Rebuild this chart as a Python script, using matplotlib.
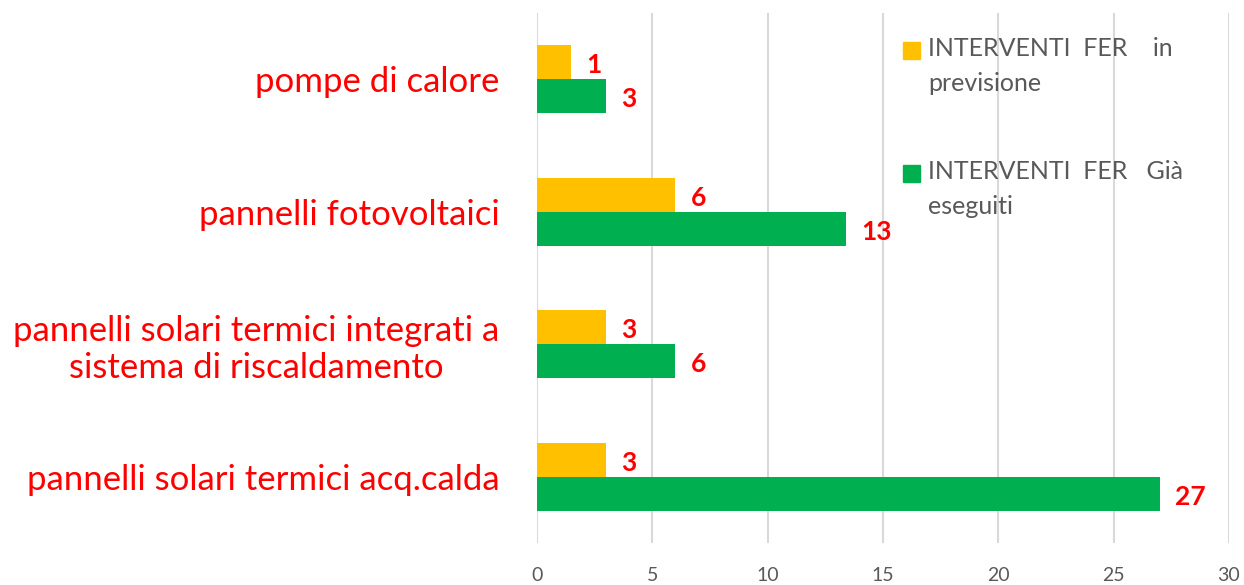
import matplotlib.pyplot as plt
from matplotlib.patches import Rectangle
import numpy as np

categories = [
    "pompe di calore",
    "pannelli fotovoltaici",
    "pannelli solari termici integrati a\nsistema di riscaldamento",
    "pannelli solari termici acq.calda",
]
previsione = [1.48, 6, 3, 3]
eseguiti = [3, 13.4, 6, 27]
previsione_labels = ["1", "6", "3", "3"]
eseguiti_labels = ["3", "13", "6", "27"]
legend_labels = ["INTERVENTI  FER    in\nprevisione", "INTERVENTI  FER   Già\neseguiti"]
legend_colors = ["#FFC000", "#00B050"]
xticks = [0, 5, 10, 15, 20, 25, 30]

plt.rcParams['font.family'] = ['Lato', 'DejaVu Sans']

W, H = 1244, 585
fig = plt.figure(figsize=(W / 100, H / 100), dpi=100)
ax = fig.add_axes([537 / W, 42 / H, (1229 - 537) / W, (543 - 13) / H])

y = np.arange(len(categories))
h = 0.257
b1 = ax.barh(y - h / 2, previsione, height=h, color=legend_colors[0], zorder=3)
b2 = ax.barh(y + h / 2, eseguiti, height=h, color=legend_colors[1], zorder=3)

for bars, labs in ((b1, previsione_labels), (b2, eseguiti_labels)):
    for bar, lab in zip(bars, labs):
        ax.annotate(lab, (bar.get_width(), bar.get_y() + bar.get_height() / 2),
                    xytext=(11, -2), textcoords="offset points", ha="left", va="center",
                    color="#FF0000", fontsize=19, fontweight="bold")

ax.set_xlim(0, 30)
ax.set_ylim(3.5, -0.5)
ax.set_xticks(xticks)
ax.set_yticks(y)
ax.set_yticklabels(categories, color="#FF0000", fontsize=25, ha="right",
                   multialignment="center")
ax.tick_params(axis="y", length=0, pad=27)
ax.tick_params(axis="x", length=0, pad=17, labelsize=14, labelcolor="#595959")
ax.grid(axis="x", color="#D9D9D9", linewidth=1.5, zorder=0)
for s in ax.spines.values():
    s.set_visible(False)

# legend drawn by hand: square aligned with first text line
for i, (lab, col) in enumerate(zip(legend_labels, legend_colors)):
    top = 42 + i * 123
    fig.patches.append(Rectangle((903 / W, 1 - (top + 17) / H), 17 / W, 17 / H,
                                 transform=fig.transFigure, color=col))
    fig.text(928 / W, 1 - (top - 5) / H, lab, ha="left", va="top", fontsize=18,
             color="#595959", linespacing=1.65)

fig.savefig("out.png", dpi=100)
